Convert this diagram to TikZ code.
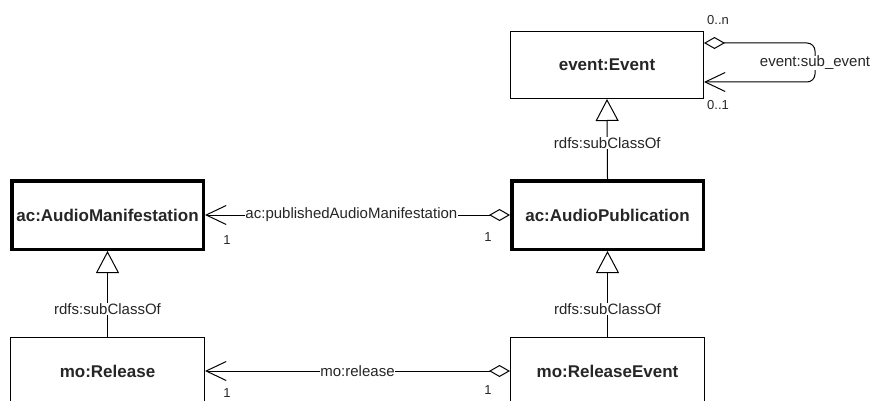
\documentclass[tikz,border=0pt]{standalone}
\usepackage{fontspec}
\setmainfont{Liberation Sans}
\usetikzlibrary{arrows.meta}
\begin{document}
\begin{tikzpicture}[x=1pt,y=-1pt,
  cls/.style={draw, line width=1.2pt, minimum width=192.8pt, minimum height=66.8pt,
    inner sep=0pt, text=black!85, font=\bfseries\fontsize{17}{20}\selectfont},
  keycls/.style={cls, line width=3.5pt, minimum width=191.5pt, minimum height=68.5pt},
  lbl/.style={fill=white, inner sep=0.5pt, text=black!85, font=\fontsize{15}{18}\selectfont},
  mult/.style={inner sep=0pt, text=black!85, font=\fontsize{13}{15}\selectfont},
  assoc/.style={line width=1pt,
    arrows={Diamond[open,length=21pt,width=12pt]-Straight Barb[length=20pt,width=19pt]}},
  gen/.style={line width=1pt, arrows={-Triangle[open,length=22pt,width=23pt]}}
]
\useasboundingbox (0,0) rectangle (872,401);
\clip (0,0) rectangle (872,401);

% classes
\node[cls]    (event)  at (607,65)    {event:Event};
\node[keycls] (manif)  at (107.5,215) {ac:AudioManifestation};
\node[keycls] (pub)    at (607.5,215) {ac:AudioPublication};
\node[cls, minimum width=193.8pt] (release) at (107.5,371) {mo:Release};
\node[cls, minimum width=193.8pt] (relev)   at (607.5,371) {mo:ReleaseEvent};

% subclass relations
\draw[gen] (pub.north)     -- node[lbl, pos=0.45] {rdfs:subClassOf} (event.south);
\draw[gen] (release.north) -- node[lbl, pos=0.32] {rdfs:subClassOf} (manif.south);
\draw[gen] (relev.north)   -- node[lbl, pos=0.32] {rdfs:subClassOf} (pub.south);

% properties
\draw[assoc] (pub.west)   -- node[lbl, pos=0.52] {ac:publishedAudioManifestation} (manif.east);
\draw[assoc] (relev.west) -- node[lbl] {mo:release} (release.east);

% sub-event self loop
\coordinate (loop) at (815,63);
\draw[assoc, rounded corners=8pt] ([yshift=22pt]event.east) -| (loop) |- ([yshift=-17pt]event.east);
\node[lbl] (loopl) at (loop) {event:sub\_event};

% multiplicities
\node[mult] (m1) at (227,240) {1};
\node[mult] (m2) at (488,237) {1};
\node[mult] (m3) at (227,393) {1};
\node[mult] (m4) at (488,390) {1};
\node[mult] (m5) at (718,20)  {0..n};
\node[mult] (m6) at (718,105) {0..1};
\end{tikzpicture}
\end{document}
